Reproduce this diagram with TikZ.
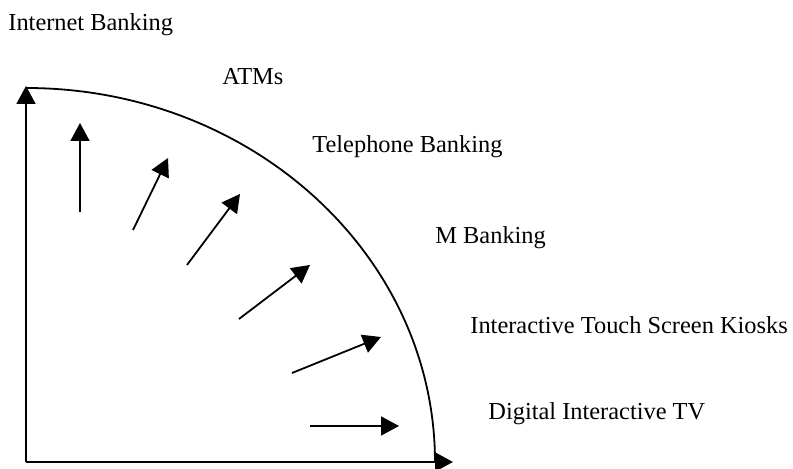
\documentclass[tikz,border=0pt]{standalone}
\usepackage{xcolor}
\usepackage{fontspec}
\setmainfont{Liberation Serif}
\usetikzlibrary{arrows.meta}

\begin{document}
\begin{tikzpicture}[x=0.5pt, y=0.5pt,
    every node/.style={anchor=west, inner sep=0pt, font=\fontsize{12.2}{14}\selectfont},
    channel/.style={-{Triangle[length=9pt, width=9.5pt]}, line width=0.9pt}]
                \useasboundingbox (0,0) rectangle (793,469);
                \coordinate (o) at (26,7);
                \coordinate (ytip) at (26,383);
                \coordinate (xtip) at (453,7);
                \draw[channel] (o) -- (ytip);
                \draw[channel] (o) -- (xtip);
                \draw[line width=0.9pt] (26,381) arc[start angle=90, end angle=0, x radius=409, y radius=374];
                \node (inet) at (8,444) {Internet Banking};
                \node (atm) at (222,392) {ATMs};
                \node (tel) at (312,322) {Telephone Banking};
                \node (mob) at (435,231) {M Banking};
                \node (kiosk) at (470,144) {Interactive Touch Screen Kiosks};
                \node (dtv) at (488,55) {Digital Interactive TV};
                \coordinate (a1) at (80,257);  \coordinate (b1) at (80,346);
                \coordinate (a2) at (133,239); \coordinate (b2) at (168,311);
                \coordinate (a3) at (187,204); \coordinate (b3) at (240,275);
                \coordinate (a4) at (239,150); \coordinate (b4) at (310,204);
                \coordinate (a5) at (292,96);  \coordinate (b5) at (381,132);
                \coordinate (a6) at (310,43);  \coordinate (b6) at (399,43);
                \foreach \i in {1,...,6}
                    \draw[channel] (a\i) -- (b\i);
            \end{tikzpicture}
\end{document}
